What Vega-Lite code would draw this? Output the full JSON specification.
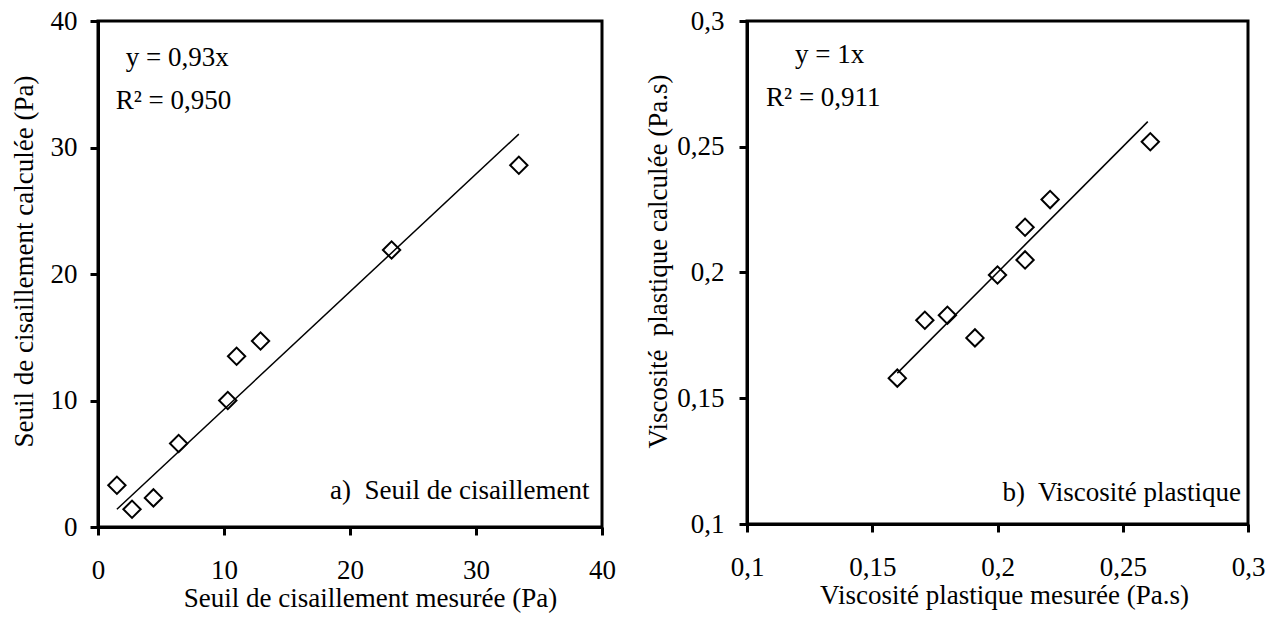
{
  "$schema": "https://vega.github.io/schema/vega-lite/v6.json",
  "background": "white",
  "padding": {"left": 8, "top": 5, "right": 5, "bottom": 5},
  "spacing": 26,
  "datasets": {
    "pa": [
      {"mesure": 1.5, "calcule": 3.3},
      {"mesure": 2.7, "calcule": 1.4},
      {"mesure": 4.4, "calcule": 2.3},
      {"mesure": 6.4, "calcule": 6.6},
      {"mesure": 10.3, "calcule": 10.0},
      {"mesure": 11.0, "calcule": 13.5},
      {"mesure": 12.9, "calcule": 14.7},
      {"mesure": 23.3, "calcule": 21.9},
      {"mesure": 33.4, "calcule": 28.6}
    ],
    "la": [
      {"mesure": 1.5, "calcule": 1.4},
      {"mesure": 33.4, "calcule": 31.06}
    ],
    "ta": [
      {"mesure": 2.2, "calcule": 37.1, "label": "y = 0,93x"},
      {"mesure": 1.4, "calcule": 33.7, "label": "R² = 0,950"}
    ],
    "ta2": [
      {"mesure": 39.0, "calcule": 2.85, "label": "a)\u00a0 Seuil de cisaillement"}
    ],
    "pb": [
      {"mesure": 0.160, "calcule": 0.158},
      {"mesure": 0.171, "calcule": 0.181},
      {"mesure": 0.180, "calcule": 0.183},
      {"mesure": 0.191, "calcule": 0.174},
      {"mesure": 0.200, "calcule": 0.199},
      {"mesure": 0.211, "calcule": 0.205},
      {"mesure": 0.211, "calcule": 0.218},
      {"mesure": 0.221, "calcule": 0.229},
      {"mesure": 0.261, "calcule": 0.252}
    ],
    "lb": [
      {"mesure": 0.160, "calcule": 0.160},
      {"mesure": 0.260, "calcule": 0.260}
    ],
    "tb": [
      {"mesure": 0.1192, "calcule": 0.2864, "label": "y = 1x"},
      {"mesure": 0.1076, "calcule": 0.2692, "label": "R² = 0,911"}
    ],
    "tb2": [
      {"mesure": 0.2972, "calcule": 0.1124, "label": "b)\u00a0 Viscosité plastique"}
    ]
  },
  "hconcat": [
    {
      "width": 504,
      "height": 506,
      "encoding": {
        "x": {
          "field": "mesure", "type": "quantitative",
          "scale": {"domain": [0, 40], "nice": false, "zero": false},
          "axis": {"values": [0, 10, 20, 30, 40], "title": "Seuil de cisaillement mesurée (Pa)", "labelPadding": 22, "titlePadding": 2, "titleX": 272}
        },
        "y": {
          "field": "calcule", "type": "quantitative",
          "scale": {"domain": [0, 40], "nice": false, "zero": false},
          "axis": {"values": [0, 10, 20, 30, 40], "title": "Seuil de cisaillement calculée (Pa)", "labelPadding": 13, "titlePadding": 12, "titleY": 240}
        }
      },
      "layer": [
        {"data": {"name": "la"}, "mark": {"type": "line", "color": "black", "strokeWidth": 1.5}},
        {"data": {"name": "pa"}, "mark": {"type": "point", "shape": "diamond", "filled": false, "color": "black", "strokeWidth": 2, "size": 300, "opacity": 1}},
        {"data": {"name": "ta"}, "mark": {"type": "text", "align": "left", "baseline": "middle", "fontSize": 27, "color": "black"}, "encoding": {"text": {"field": "label"}}},
        {"data": {"name": "ta2"}, "mark": {"type": "text", "align": "right", "baseline": "middle", "fontSize": 27, "color": "black"}, "encoding": {"text": {"field": "label"}}}
      ]
    },
    {
      "width": 501,
      "height": 503,
      "encoding": {
        "x": {
          "field": "mesure", "type": "quantitative",
          "scale": {"domain": [0.1, 0.3], "nice": false, "zero": false},
          "axis": {"values": [0.1, 0.15, 0.2, 0.25, 0.3], "format": "~g", "labelExpr": "replace(datum.label, '.', ',')", "title": "Viscosité plastique mesurée (Pa.s)", "labelPadding": 22, "titlePadding": 2, "titleX": 257}
        },
        "y": {
          "field": "calcule", "type": "quantitative",
          "scale": {"domain": [0.1, 0.3], "nice": false, "zero": false},
          "axis": {"values": [0.1, 0.15, 0.2, 0.25, 0.3], "format": "~g", "labelExpr": "replace(datum.label, '.', ',')", "title": "Viscosité\u00a0 plastique calculée (Pa.s)", "labelPadding": 15, "titlePadding": 4, "titleY": 240}
        }
      },
      "layer": [
        {"data": {"name": "lb"}, "mark": {"type": "line", "color": "black", "strokeWidth": 1.5}},
        {"data": {"name": "pb"}, "mark": {"type": "point", "shape": "diamond", "filled": false, "color": "black", "strokeWidth": 2, "size": 300, "opacity": 1}},
        {"data": {"name": "tb"}, "mark": {"type": "text", "align": "left", "baseline": "middle", "fontSize": 27, "color": "black"}, "encoding": {"text": {"field": "label"}}},
        {"data": {"name": "tb2"}, "mark": {"type": "text", "align": "right", "baseline": "middle", "fontSize": 27, "color": "black"}, "encoding": {"text": {"field": "label"}}}
      ]
    }
  ],
  "config": {
    "font": "Liberation Serif",
    "view": {"stroke": "black", "strokeWidth": 3},
    "axis": {
      "grid": false,
      "domainColor": "black",
      "domainWidth": 3,
      "tickColor": "black",
      "tickWidth": 3,
      "tickSize": 8,
      "labelFont": "Liberation Serif",
      "labelFontSize": 27,
      "labelColor": "black",
      "labelFlush": false,
      "labelOverlap": false,
      "titleFont": "Liberation Serif",
      "titleFontSize": 27,
      "titleFontWeight": "normal",
      "titleColor": "black"
    }
  }
}
